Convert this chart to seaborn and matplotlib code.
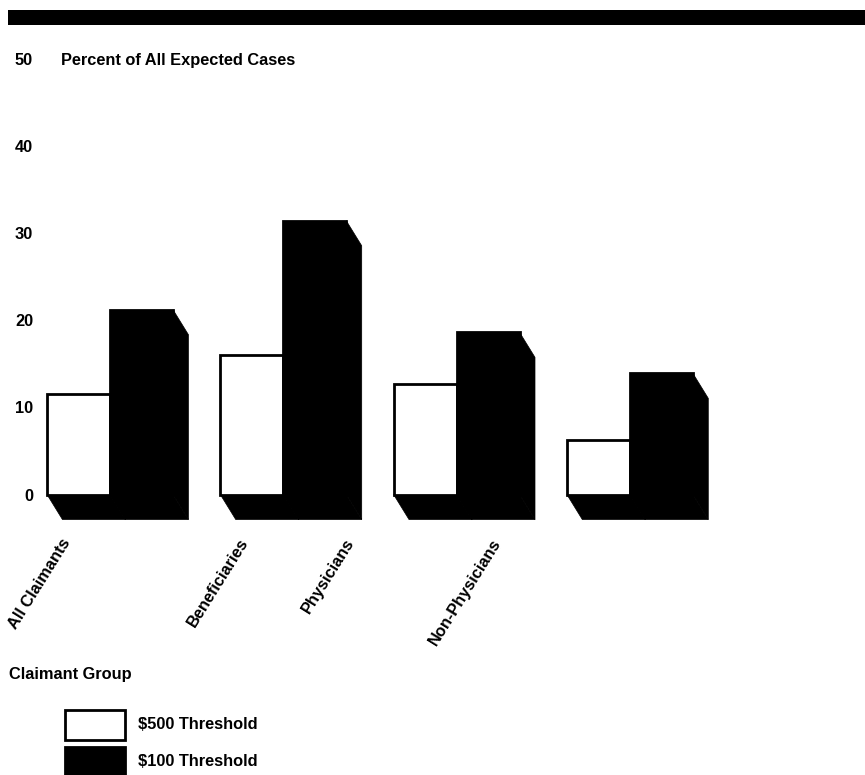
import matplotlib
matplotlib.use("Agg")
import matplotlib.pyplot as plt
from matplotlib.patches import Polygon, Rectangle
import pandas as pd
import seaborn as sns

# ---- data -------------------------------------------------------------
groups = ["All Claimants", "Beneficiaries", "Physicians", "Non-Physicians"]
threshold_500 = [11.5, 16.0, 12.7, 6.2]
threshold_100 = [21.2, 31.4, 18.6, 13.9]
series_names = ["$500 Threshold", "$100 Threshold"]
series_colors = ["white", "black"]
y_ticks = [0, 10, 20, 30, 40, 50]
y_title = "Percent of All Expected Cases"
x_title = "Claimant Group"

df = pd.DataFrame({
    "group": groups * 2,
    "series": [series_names[0]] * len(groups) + [series_names[1]] * len(groups),
    "value": threshold_500 + threshold_100,
})

# ---- style ------------------------------------------------------------
sns.set_theme(style="white")
plt.rcParams["font.family"] = ["Liberation Sans", "DejaVu Sans"]
plt.rcParams["font.weight"] = "bold"
for key in ["text.color", "axes.labelcolor", "xtick.color", "ytick.color"]:
    plt.rcParams[key] = "black"
FS = 11.8
W, H = 865, 775  # figure size in pixels


def fx(px):
    return px / W


def fy(py):
    return 1 - py / H


# extrusion of the pseudo-3D bars (x in category units, y in percent)
DEPTH_X = 0.089
DEPTH_Y = 2.87
# where each rotated category label ends, relative to its group centre
label_shift = [-0.283, -0.256, -0.650, -0.802]

fig = plt.figure(figsize=(W / 100, H / 100), dpi=100)
ax = fig.add_axes([fx(40), 0.32142, 820 / W, 0.62555])

sns.barplot(
    data=df, x="group", y="value", hue="series",
    order=groups, hue_order=series_names,
    palette=dict(zip(series_names, series_colors)),
    width=0.727, saturation=1, edgecolor="black", linewidth=2,
    errorbar=None, legend=False, ax=ax, zorder=3,
)

# side and bottom faces of every bar, derived from the drawn bar geometry
bars = [p for p in ax.patches if isinstance(p, Rectangle)]
for p in bars:
    x0, w, h = p.get_x(), p.get_width(), p.get_height()
    x1 = x0 + w
    side = [(x1, h), (x1 + DEPTH_X, h - DEPTH_Y), (x1 + DEPTH_X, -DEPTH_Y), (x1, 0)]
    floor = [(x0, 0), (x1, 0), (x1 + DEPTH_X, -DEPTH_Y), (x0 + DEPTH_X, -DEPTH_Y)]
    for verts in (side, floor):
        ax.add_patch(Polygon(verts, closed=True, facecolor="black",
                             edgecolor="black", linewidth=0.5, zorder=2))

ax.set_xlim(-0.404, 4.328)
ax.set_ylim(-3.6, 52)
ax.set_xlabel("")
ax.set_ylabel("")
sns.despine(ax=ax, left=True, bottom=True)
ax.grid(False)

ax.set_yticks(y_ticks)
ax.set_yticklabels([str(t) for t in y_ticks])
ax.tick_params(axis="y", length=0, pad=5, labelsize=FS)

ax.set_xticks([i + s for i, s in enumerate(label_shift)])
ax.set_xticklabels(groups)
ax.tick_params(axis="x", length=0, pad=7.3, labelsize=FS)
for lab in ax.get_xticklabels():
    lab.set_rotation(58)
    lab.set_ha("right")
    lab.set_rotation_mode("anchor")
    lab.set_fontweight("bold")
for lab in ax.get_yticklabels():
    lab.set_fontweight("bold")

# header band
fig.add_artist(Rectangle((fx(8), fy(25)), 857 / W, 15 / H,
                         transform=fig.transFigure, facecolor="black",
                         edgecolor="none"))

fig.text(fx(61), fy(61), y_title, ha="left", va="center",
         fontsize=FS, fontweight="bold")
fig.text(fx(9), fy(675), x_title, ha="left", va="center",
         fontsize=FS, fontweight="bold")

# legend: swatch per series with its label
for k, (name, color) in enumerate(zip(series_names, series_colors)):
    top = 709.5 + 37 * k
    fig.add_artist(Rectangle((fx(64.5), fy(top + 30)), 60 / W, 30 / H,
                             transform=fig.transFigure, facecolor=color,
                             edgecolor="black", linewidth=2))
    fig.text(fx(138), fy(top + 15), name, ha="left", va="center",
             fontsize=FS, fontweight="bold")

fig.savefig("out.png", dpi=100)
